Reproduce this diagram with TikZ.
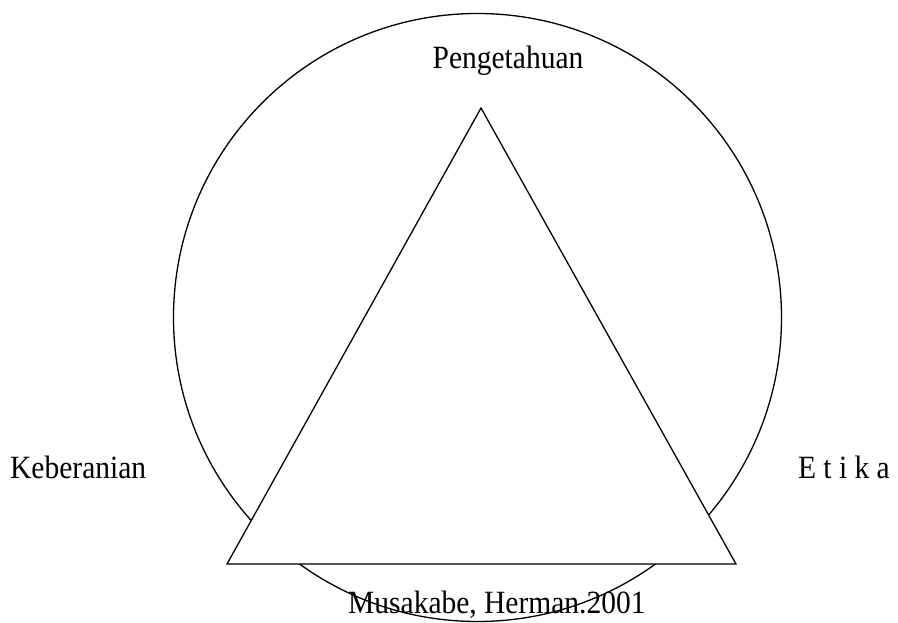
\documentclass[tikz,border=0pt]{standalone}
\usepackage{fontspec}
\setmainfont{Liberation Serif}
\begin{document}
\begin{tikzpicture}[x=1pt,y=-1pt,
  lbl/.style={font=\fontsize{29.5}{32}\selectfont, inner sep=0pt, yscale=1.1, transform shape},
  shape line/.style={draw=black, line width=1.3pt}]
\useasboundingbox (0,0) rectangle (898,623);
\node[shape line, circle, minimum size=608pt, inner sep=0pt] (circ) at (477.5,317.5) {};
\coordinate (apex) at (481,108);
\coordinate (bl) at (227,564);
\coordinate (br) at (736,564);
\draw[shape line, fill=white, line join=miter] (apex) -- (bl) -- (br) -- cycle;
\node[lbl] (pen) at (508,61) {Pengetahuan};
\node[lbl, anchor=west] (keb) at (10,467) {Keberanian};
\node[lbl, anchor=east] (eti) at (890,467) {E t i k a};
\node[lbl, anchor=west] (mus) at (348,605) {Musakabe, Herman.2001};
\end{tikzpicture}
\end{document}
